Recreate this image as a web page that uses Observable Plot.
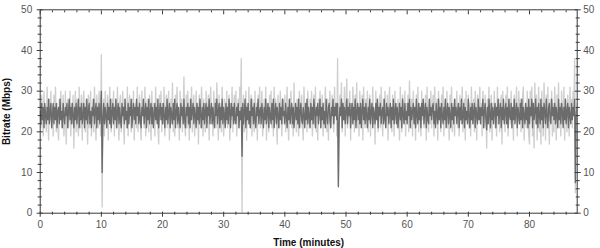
<!DOCTYPE html>
<html><head><meta charset="utf-8">
<script src="https://cdn.jsdelivr.net/npm/d3@7"></script>
<script src="https://cdn.jsdelivr.net/npm/@observablehq/plot@0.6"></script>
<style>body{margin:0;background:#fff;overflow:hidden}</style>
</head><body><div id="chart"></div>
<script>
// minutes between samples
const sampleStep = 0.125;
// light series (Mbps), one value per sample, 32 samples (4 minutes) per row
const lightRate = [
27,21,29,24,19,30,22,26,20,31,25,18,28,23,30,21,26,19,29,24,31,20,27,22,18,28,25,30,21,24,29,19,
23,30,17,26,28,21,24,30,19,27,22,29,16,25,30,20,28,23,19,31,24,21,29,18,26,30,22,20,28,25,17,29,
21,27,30,19,24,28,20,31,23,18,29,25,21,30,26,19,39,1.5,22,28,19,30,24,21,29,18,26,31,22,20,28,24,
30,19,25,28,21,31,23,18,27,29,20,24,30,22,17,28,25,21,31,19,26,29,23,20,28,22,30,18,25,27,21,31,
20,26,29,22,18,30,24,27,21,31,19,25,28,23,20,29,26,18,30,22,27,24,19,31,23,28,21,17,29,25,30,20,
27,22,31,19,24,29,21,26,30,18,25,28,22,32,20,27,19,29,24,31,21,26,18,30,23,28,20,25,33.5,22,19,29,
21,30,25,18,28,23,31,20,26,29,19,24,30,22,27,17,29,24,21,31,26,19,28,23,20,30,25,22,29,18,27,31,
22,26,19,30,24,28,21,32,25,18,29,23,27,20,31,24,19,28,26,22,30,21,25,29,18,27,23,31,20,26,29,22,
30,19,25,28,21,31,24,38,0,26,29,20,24,30,18,27,23,31,21,26,29,19,28,24,20,30,22,27,18,29,25,31,
21,26,30,19,24,28,22,31,18,27,25,20,29,23,30,21,26,19,31,24,28,22,17,29,25,21,30,27,19,24,28,22,
29,20,26,31,22,18,28,24,30,21,25,19,32,23,27,20,28,24,19,30,26,21,29,23,18,31,25,22,27,20,30,24,
21,28,25,30,19,24,29,22,31,20,26,18,28,23,30,21,25,29,19,27,22,31,24,20,28,18,26,30,21,25,29,23,
20,31,24,27,19,38,7,22,29,25,32,20,27,23,31,19,26,33,21,28,24,30,18,27,22,31,25,20,29,23,32,21,
27,19,30,24,22,29,18,31,25,21,28,23,30,20,26,29,19,27,24,31,22,25,17,30,23,28,20,26,29,21,31,24,
19,28,25,30,21,24,29,18,27,31,22,26,20,29,24,19,30,23,27,21,28,25,18,31,24,20,29,26,22,30,19,27,
23,29,20,32.5,25,21,28,19,30,24,26,18,29,22,31,20,27,25,19,30,23,28,21,26,29,18,31,24,20,27,22,30,
21,26,29,19,31,24,22,28,18,30,25,27,20,29,23,31,19,26,28,22,30,21,25,18,29,24,31,20,27,23,19,28,
25,30,21,27,19,29,24,22,31,20,26,28,18,30,23,25,29,21,27,19,31,24,22,28,20,30,25,18,29,23,26,31,
22,27,19,30,24,21,29,25,16,28,23,31,20,26,29,18,27,24,30,21,25,19,31,22,28,20,26,29,17,30,23,25,
20,29,24,31,19,26,28,22,30,21,25,18,29,27,23,31,19,26,30,22,28,20,24,29,31,18,25,27,21,30,23,19,
17,30,24,31,19,27,16,32,22,29,18,25,31,20,28,17,30,24,19,32,26,18,29,21,31,23,17,28,25,30,19,27,
20,31,25,18,29,23,32,21,27,19,30,24,22,31,18,28,25,20,29,26,19,31,23,28,21,30,24,38,5,22,27,20
];
// dark series (Mbps)
const darkRate = [
25,22,27,23,26,21,27,24,22,26,23,28,22,25,27,21,24,27,22,26,23,27,21,25,26,22,28,23,25,21,27,24,
22,26,24,27,21,25,28,23,26,22,27,24,21,26,23,27,22,25,28,21,26,23,27,22,24,27,21,26,23,28,22,25,
27,22,25,21,26,24,28,22,25,27,21,26,23,27,22,25,30,10,23,27,22,26,24,21,27,23,26,22,28,21,25,27,
22,26,23,28,21,25,27,22,26,23,21,27,24,26,22,28,23,25,21,27,22,26,24,28,21,25,27,23,26,22,28,24,
26,22,27,23,21,26,24,28,22,25,27,21,26,23,28,22,25,27,22,26,21,24,27,23,26,22,28,21,25,27,23,26,
22,27,24,21,26,23,28,22,25,27,21,26,24,22,27,23,28,21,25,27,22,26,23,21,27,24,26,22,28,23,21,26,
24,27,22,26,21,28,23,25,27,22,26,24,21,27,23,26,22,28,24,21,26,23,27,22,25,27,21,26,24,28,22,25,
27,22,26,23,21,27,24,28,22,25,27,21,26,23,28,22,26,24,21,27,23,26,22,28,25,21,27,24,26,22,27,23,
22,26,24,27,21,25,23,26,14,27,22,25,28,21,26,23,27,22,25,21,28,24,26,22,27,23,21,26,24,28,22,25,
26,22,27,24,21,26,23,28,22,25,27,21,26,24,22,27,23,28,21,25,27,22,26,24,21,27,23,26,22,28,24,25,
22,27,24,21,26,23,28,22,25,27,22,26,21,24,27,23,26,22,28,21,25,27,23,22,26,24,21,27,23,28,22,26,
24,21,27,23,26,22,28,25,21,26,24,27,22,25,28,21,26,23,27,22,25,21,28,24,22,26,27,23,21,26,24,28,
22,26,24,27,23,27,6.5,22,26,24,28,21,27,23,26,22,25,28,22,26,24,27,21,25,27,22,26,23,28,21,25,27,
23,26,22,27,21,25,28,23,26,22,27,24,21,26,23,28,22,25,27,21,26,24,22,27,23,28,21,26,24,27,22,25,
26,22,28,23,21,27,24,26,22,25,27,21,26,23,28,22,25,27,22,26,21,24,27,23,26,21,28,24,22,27,23,25,
22,27,24,28,21,26,23,25,27,22,26,21,28,24,22,27,23,26,21,27,24,28,22,25,27,21,26,23,22,28,24,26,
23,26,27,22,25,21,27,24,22,28,23,26,21,27,24,22,26,23,28,21,25,27,22,26,24,21,27,23,26,22,28,24,
26,22,25,27,21,26,23,28,22,24,27,21,26,23,25,22,28,24,21,26,23,27,22,25,27,21,26,24,22,28,23,26,
22,26,24,28,21,25,27,23,20.5,26,22,28,24,21,27,23,26,22,25,27,21,26,24,28,22,25,27,21,26,23,28,22,
25,27,22,26,21,28,24,23,27,21,26,23,28,22,25,27,21,26,24,22,27,23,28,21,26,24,22,27,23,26,21,28,
22,26,24,28,21,27,23,25,28,22,26,21,27,24,22,28,23,26,21,27,25,22,28,24,21,26,27,23,22,28,24,26,
23,27,22,26,24,21,28,23,26,22,27,25,21,26,23,28,22,25,27,21,26,24,22,27,23,26,24,28,7.5,24,26,22
];
const xMajorTicks = [0,10,20,30,40,50,60,70,80];
const xMinorTicks = [2,4,6,8,12,14,16,18,22,24,26,28,32,34,36,38,42,44,46,48,52,54,56,58,62,64,66,68,72,74,76,78,82,84,86];
const yMajorTicks = [0,10,20,30,40,50];
const yMinorTicks = [2,4,6,8,12,14,16,18,22,24,26,28,32,34,36,38,42,44,46,48];
const xTitle = "Time (minutes)";
const yTitle = "Bitrate (Mbps)";

const rows = lightRate.map((v, i) => ({t: i * sampleStep, light: v, dark: darkRate[i]}));
const axisColor = "#3a3a3a";
const labelColor = "#555";

const chart = Plot.plot({
  width: 600, height: 248,
  marginLeft: 39.7, marginRight: 23.3, marginTop: 9.3, marginBottom: 35.3,
  x: {domain: [0, 87.8], label: null},
  y: {domain: [0, 50], label: null},
  style: {fontFamily: "'Liberation Sans', Arial, sans-serif", fontSize: "10px", background: "#fff", overflow: "visible"},
  marks: [
    Plot.line(rows, {x: "t", y: "light", stroke: "#cfcfcf", strokeWidth: 1.35, clip: true}),
    Plot.line(rows, {x: "t", y: "dark", stroke: "#6c6c6c", strokeWidth: 1.35, clip: true}),
    Plot.frame({stroke: axisColor}),
    // ticks
    Plot.axisY(yMajorTicks, {anchor: "left", tickSize: 6, dx: 3, fill: "none", stroke: axisColor}),
    Plot.axisY(yMinorTicks, {anchor: "left", tickSize: 4, dx: 2, fill: "none", stroke: axisColor}),
    Plot.axisY(yMajorTicks, {anchor: "right", tickSize: 6, dx: -3, fill: "none", stroke: axisColor}),
    Plot.axisY(yMinorTicks, {anchor: "right", tickSize: 4, dx: -2, fill: "none", stroke: axisColor}),
    Plot.axisX(xMajorTicks, {anchor: "bottom", tickSize: 5, dy: -1, fill: "none", stroke: axisColor}),
    Plot.axisX(xMinorTicks, {anchor: "bottom", tickSize: 3, dy: -1, fill: "none", stroke: axisColor}),
    Plot.axisX(xMajorTicks, {anchor: "top", tickSize: 4, dy: 4, fill: "none", stroke: axisColor}),
    Plot.axisX(xMinorTicks, {anchor: "top", tickSize: 2, dy: 2, fill: "none", stroke: axisColor}),
    // tick labels
    Plot.axisY(yMajorTicks, {anchor: "left", tickSize: 0, tickPadding: 8, fill: labelColor, label: null}),
    Plot.axisY(yMajorTicks, {anchor: "right", tickSize: 0, tickPadding: 6, fill: labelColor, label: null}),
    Plot.axisX(xMajorTicks, {anchor: "bottom", tickSize: 0, tickPadding: 8, fill: labelColor, label: null}),
    // axis titles
    Plot.text([xTitle], {text: d => d, frameAnchor: "bottom", textAnchor: "middle", lineAnchor: "middle", dy: 30, fontWeight: "bold", fill: "#111"}),
    Plot.text([yTitle], {text: d => d, frameAnchor: "left", textAnchor: "middle", lineAnchor: "middle", rotate: -90, dx: -33, fontWeight: "bold", fill: "#111"})
  ]
});
document.getElementById("chart").appendChild(chart);
</script>
</body></html>
